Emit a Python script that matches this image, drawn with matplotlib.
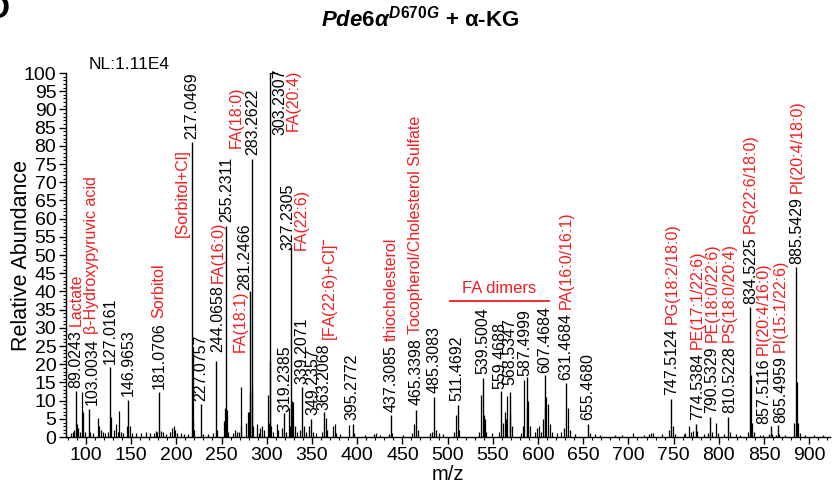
import matplotlib.pyplot as plt
from matplotlib.ticker import MultipleLocator

plt.rcParams['font.family'] = ['Liberation Sans', 'DejaVu Sans']
plt.rcParams['mathtext.fontset'] = 'custom'
plt.rcParams['mathtext.rm'] = 'Liberation Sans:bold'
plt.rcParams['mathtext.it'] = 'Liberation Sans:italic:bold'
plt.rcParams['mathtext.bf'] = 'Liberation Sans:bold'

RED = '#f01e1e'
LABEL_SIZE = 11.5

# annotated peaks: m/z and relative abundance (%)
ann_mz = [89.0243, 103.0034, 127.0161, 146.9653, 181.0706, 217.0469, 227.0757,
          244.0658, 255.2311, 281.2466, 283.2622, 303.2307, 319.2385, 327.2305,
          339.2071, 349.2357, 363.2068, 395.2772, 437.3085, 465.3398, 485.3083,
          511.4692, 539.5004, 559.4688, 568.5347, 587.4999, 607.4684, 631.4684,
          655.4680, 747.5124, 774.5384, 790.5329, 810.5228, 834.5225, 857.5116,
          865.4959, 885.5429]
ann_int = [12.7, 7.8, 19.2, 10.2, 12.4, 81.0, 9.0,
           21.0, 58.0, 40.0, 76.5, 100.0, 6.5, 52.0,
           13.8, 5.0, 6.8, 3.6, 6.2, 7.5, 11.0,
           8.8, 16.3, 12.6, 12.4, 16.6, 17.0, 14.8,
           3.6, 10.5, 3.6, 5.6, 5.6, 35.7, 3.0,
           3.3, 46.7]
# compound names written after the m/z label
ann_name = ['Lactate', 'β-Hydroxypyruvic acid', '', '', 'Sorbitol', '', '',
            '', '', '', '', '', '', '',
            '', '', '', '', 'thiocholesterol', 'Tocopherol/Cholesterol Sulfate', '',
            '', '', '', '', '', '', 'PA(16:0/16:1)',
            '', 'PG(18:2/18:0)', 'PE(17:1/22:6)', 'PE(18:0/22:6)', 'PS(18:0/20:4)',
            'PS(22:6/18:0)', 'PI(20:4/16:0)',
            'PI(15:1/22:6)', 'PI(20:4/18:0)']

# names set in their own column beside the peak
side_name = ['[Sorbitol+Cl]', 'FA(18:0)', 'FA(16:0)', 'FA(18:1)', 'FA(20:4)',
             'FA(22:6)', r'[FA(22:6)+Cl]$^{-}$']

# unlabelled peaks
other_mz = [84, 86, 87, 90, 91, 93, 96, 97, 99, 105, 108, 113, 115, 117, 119, 121,
            125, 128, 131, 133, 135, 137, 139, 141, 145, 149, 151, 155, 161, 167,
            171, 175, 177, 179, 183, 185, 189, 193, 195, 197, 199, 201, 205, 209,
            213, 218, 219, 220, 229, 235, 241, 245, 253, 254, 256, 257, 263, 265,
            267, 269, 271, 272, 277, 279, 280, 282, 284, 285, 289, 291, 293, 295,
            297, 301, 302, 304, 305, 307, 311, 313, 317, 321, 325, 326, 328, 329,
            331, 333, 337, 341, 343, 347, 351, 355, 361, 365, 367, 373, 375, 377,
            381, 391, 397, 409, 419, 421, 425, 435, 439, 451, 461, 463, 467, 481,
            483, 487, 491, 495, 507, 509, 513, 535, 537, 540, 541, 543, 549, 557,
            561, 563, 565, 566, 569, 571, 581, 583, 585, 588, 589, 591, 597, 599,
            601, 603, 605, 608, 609, 611, 613, 615, 621, 625, 629, 633, 635, 641,
            657, 663, 669, 685, 693, 705, 717, 723, 725, 727, 737, 745, 749, 751,
            761, 763, 767, 769, 771, 776, 783, 788, 792, 797, 799, 806, 812, 819,
            823, 832, 835.5, 837, 839, 845, 849, 855, 859, 863, 867, 873, 883,
            886.5, 888, 890, 895, 905, 915]
other_int = [1.2, 1.5, 2.0, 3.5, 2.5, 1.5, 12.3, 7.0, 1.5, 1.5, 1.0, 5.3, 3.0, 2.0, 1.5, 1.0,
             1.5, 5.5, 2.0, 3.5, 1.5, 7.2, 1.5, 1.0, 3.0, 3.0, 1.0, 1.0, 1.0, 1.5,
             1.0, 1.2, 1.8, 1.5, 1.8, 1.5, 0.8, 1.5, 2.5, 3.0, 2.0, 1.0, 1.0, 0.8,
             0.8, 4.5, 23.2, 2.0, 0.8, 0.8, 1.0, 2.0, 4.5, 8.0, 7.5, 1.5, 1.0, 2.0,
             1.5, 1.5, 13.8, 3.0, 4.0, 7.0, 7.0, 12.0, 13.5, 3.0, 3.5, 1.2, 2.5, 3.0,
             2.0, 11.5, 4.0, 20.5, 3.0, 1.5, 3.5, 2.0, 2.5, 1.5, 8.0, 3.0, 10.0, 9.5,
             3.0, 1.5, 2.0, 3.0, 1.5, 3.0, 1.5, 1.0, 1.5, 5.3, 2.0, 3.0, 3.5, 1.0,
             0.8, 3.4, 1.0, 0.7, 0.8, 1.0, 0.7, 0.8, 1.2, 0.7, 1.0, 3.5, 2.0, 1.0,
             1.5, 2.0, 1.0, 0.8, 1.5, 6.0, 2.0, 1.5, 11.5, 6.0, 5.0, 1.5, 1.0, 1.5,
             4.0, 7.0, 5.0, 11.2, 6.5, 3.0, 1.2, 3.0, 15.8, 8.0, 10.0, 3.0, 1.5, 2.5,
             3.0, 1.5, 5.0, 8.0, 11.0, 9.0, 3.5, 1.5, 1.0, 1.5, 2.5, 8.0, 2.0, 0.8,
             1.0, 0.8, 0.6, 0.7, 0.5, 1.0, 0.7, 0.9, 1.2, 1.0, 0.8, 2.0, 3.0, 0.8,
             0.8, 1.0, 3.0, 1.5, 1.8, 1.8, 0.8, 1.2, 1.5, 3.8, 1.0, 0.8, 1.5, 0.8,
             0.7, 1.5, 17.0, 4.0, 1.5, 0.6, 0.5, 0.8, 0.8, 0.7, 0.8, 0.6, 4.0,
             15.0, 4.0, 1.0, 0.5, 0.5, 0.5]

# text placement (m/z, %) for each annotated peak label
label_xy = [(89.0, 13.6), (106.5, 8.8), (127.5, 20.2), (147.0, 11.2), (181.0, 13.3),
            (217.5, 81.8), (227.0, 10.0), (245.5, 23.5), (255.5, 59.0), (276.0, 40.5),
            (285.0, 77.5), (314.5, 83.0), (320.0, 7.0), (323.0, 51.5), (339.0, 14.5),
            (351.0, 6.0), (363.5, 7.5), (394.5, 4.8), (438.0, 7.0), (465.0, 8.8),
            (485.0, 12.0), (510.5, 10.0), (539.0, 17.2), (558.0, 13.2), (569.0, 14.3),
            (585.5, 16.8), (607.5, 17.5), (631.0, 15.7), (654.5, 4.7), (748.0, 11.5),
            (776.0, 4.7), (792.5, 6.6), (812.0, 6.6), (835.0, 36.5), (849.5, 3.5),
            (868.0, 3.9), (886.5, 47.5)]
side_xy = [(207.0, 55.0), (266.0, 79.5), (246.5, 42.3), (270.5, 23.5), (329.0, 84.0),
           (338.0, 51.5), (370.0, 26.5)]

fig = plt.figure(figsize=(8.32, 4.9), dpi=100)
ax = fig.add_axes([0.0793, 0.108, 0.918, 0.743])

ax.vlines(other_mz, 0, other_int, colors='black', linewidth=0.9)
ax.vlines(ann_mz, 0, ann_int, colors='black', linewidth=1.0)

for m, h, name, (lx, ly) in zip(ann_mz, ann_int, ann_name, label_xy):
    t = ax.text(lx, ly, '%.4f' % m, rotation=90, ha='center', va='bottom',
                fontsize=LABEL_SIZE, color='black', clip_on=False)
    if name:
        ax.annotate(name, xy=(0.5, 1), xycoords=t, xytext=(0, 3),
                    textcoords='offset points', rotation=90, ha='center',
                    va='bottom', fontsize=LABEL_SIZE, color=RED)

for name, (sx, sy) in zip(side_name, side_xy):
    ax.text(sx, sy, name, rotation=90, ha='center', va='bottom',
            fontsize=LABEL_SIZE, color=RED, clip_on=False)

# leaders from offset labels back to their peaks
ax.plot([303.2307, 311.5], [100, 100], color='black', lw=0.8, clip_on=False)
ax.plot([325.5, 327.2305], [52.0, 52.0], color='black', lw=0.8)

# FA dimer region
ax.plot([502.5, 612.0], [37.4, 37.4], color=RED, lw=1.3)
ax.text(557.5, 38.8, 'FA dimers', ha='center', va='bottom', fontsize=12, color=RED)

ax.text(0.029, 1.004, 'NL:1.11E4', transform=ax.transAxes, ha='left', va='bottom',
        fontsize=12.5)

ax.set_xlim(78, 922.6)
ax.set_ylim(0, 100)
ax.xaxis.set_major_locator(MultipleLocator(50))
ax.xaxis.set_minor_locator(MultipleLocator(10))
ax.yaxis.set_major_locator(MultipleLocator(5))
ax.yaxis.set_minor_locator(MultipleLocator(1))
ax.tick_params(which='major', direction='out', length=5, width=1, labelsize=14, pad=2)
ax.tick_params(which='minor', direction='out', length=2.5, width=0.8)
for side in ['top', 'right']:
    ax.spines[side].set_visible(False)
ax.spines['left'].set_linewidth(1)
ax.spines['bottom'].set_linewidth(1)

ax.set_xlabel('m/z', fontsize=14.5, labelpad=1)
ax.set_ylabel('Relative Abundance', fontsize=15.5)
ax.yaxis.set_label_coords(-0.044, 0.5)

fig.text(0.505, 0.962, r'$\mathit{Pde6}\alpha^{\mathit{D670G}}$ + α-KG',
         ha='center', va='center', fontsize=16, fontweight='bold')
fig.text(-0.017, 0.963, 'D', ha='left', va='baseline', fontsize=24, fontweight='bold')

fig.savefig('out.png', dpi=100)
